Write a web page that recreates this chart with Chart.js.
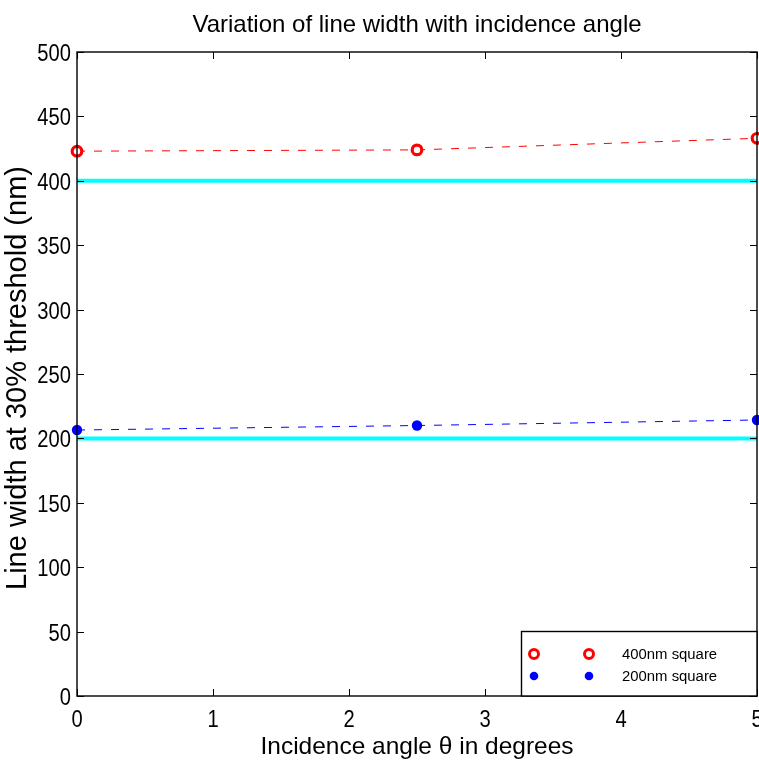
<!DOCTYPE html>
<html>
<head>
<meta charset="utf-8">
<script src="https://cdn.jsdelivr.net/npm/chart.js@4/dist/chart.umd.min.js"></script>
<style>
  html, body { margin: 0; padding: 0; background: #fff; }
  #wrap { width: 759px; height: 762px; position: relative; }
</style>
</head>
<body>
<div id="wrap"><canvas id="c"></canvas></div>
<script>
// Line width vs incidence angle
const angles = [0, 2.5, 5];
const width400 = [423, 424, 433];
const width200 = [206.5, 210, 214.3];
const nominal400 = [400, 400];
const nominal200 = [200, 200];
const xEnds = [0, 5];
const xTicks = [0, 1, 2, 3, 4, 5];
const yTicks = [0, 50, 100, 150, 200, 250, 300, 350, 400, 450, 500];

const chartTitle = 'Variation of line width with incidence angle';
const xTitle = 'Incidence angle \u03b8 in degrees';
const yTitle = 'Line width at 30% threshold (nm)';
const legendLabels = ['400nm square', '200nm square'];

const SANS = '"Liberation Sans", Arial, sans-serif';

function pts(xs, ys) { return xs.map((x, i) => ({ x: x, y: ys[i] })); }

// text squeezed horizontally, like the matlab export
function squeezed(ctx, text, x, y, align, sx) {
    ctx.save();
    ctx.translate(x, y);
    ctx.scale(sx, 1);
    ctx.textAlign = align;
    ctx.fillText(text, 0, 0);
    ctx.restore();
}

// frame with inward ticks on all four sides, tick labels, titles, legend box
const decor = {
    id: 'decor',
    afterDatasetsDraw(chart) {
        const ctx = chart.ctx;
        const a = chart.chartArea;
        const xs = chart.scales.x, ys = chart.scales.y;
        ctx.save();
        ctx.strokeStyle = '#000';
        ctx.lineWidth = 1.4;
        ctx.strokeRect(a.left, a.top, a.right - a.left, a.bottom - a.top);
        ctx.lineWidth = 1;
        ctx.beginPath();
        for (const t of xs.ticks) {
            const px = Math.round(xs.getPixelForValue(t.value)) + 0.5;
            ctx.moveTo(px, a.bottom); ctx.lineTo(px, a.bottom - 7);
            ctx.moveTo(px, a.top); ctx.lineTo(px, a.top + 7);
        }
        for (const t of ys.ticks) {
            const py = Math.round(ys.getPixelForValue(t.value)) + 0.5;
            ctx.moveTo(a.left, py); ctx.lineTo(a.left + 7, py);
            ctx.moveTo(a.right, py); ctx.lineTo(a.right - 7, py);
        }
        ctx.stroke();

        // tick labels
        ctx.fillStyle = '#000';
        ctx.textBaseline = 'alphabetic';
        ctx.font = '24px ' + SANS;
        for (const t of xs.ticks) {
            squeezed(ctx, t.label, xs.getPixelForValue(t.value), a.bottom + 31, 'center', 0.84);
        }
        for (const t of ys.ticks) {
            squeezed(ctx, t.label, a.left - 6, ys.getPixelForValue(t.value) + 9, 'right', 0.84);
        }

        // titles
        ctx.textAlign = 'center';
        ctx.fillText(chartTitle, (a.left + a.right) / 2, 32);
        squeezed(ctx, xTitle, (a.left + a.right) / 2, 754, 'center', 1.02);
        ctx.save();
        ctx.translate(26, 378);
        ctx.rotate(-Math.PI / 2);
        ctx.font = '29px ' + SANS;
        ctx.fillText(yTitle, 0, 0);
        ctx.restore();

        // legend
        const bx = 521.5, by = 631.5, bw = a.right - 521.5, bh = a.bottom - 631.5;
        ctx.fillStyle = '#fff';
        ctx.fillRect(bx, by, bw, bh);
        ctx.lineWidth = 1.4;
        ctx.strokeRect(bx, by, bw, bh);
        const rows = [654, 676];
        [0, 1].forEach(i => {
            const ds = chart.data.datasets[i];
            for (const mx of [534, 589]) {
                ctx.beginPath();
                if (i === 0) {
                    ctx.arc(mx, rows[i], 4.5, 0, Math.PI * 2);
                    ctx.lineWidth = 3;
                    ctx.strokeStyle = ds.pointBorderColor;
                    ctx.stroke();
                } else {
                    ctx.arc(mx, rows[i], 4.3, 0, Math.PI * 2);
                    ctx.fillStyle = ds.pointBackgroundColor;
                    ctx.fill();
                }
            }
            ctx.fillStyle = '#000';
            ctx.textBaseline = 'middle';
            ctx.font = '15.5px ' + SANS;
            squeezed(ctx, legendLabels[i], 622, rows[i] + 1, 'left', 0.96);
        });
        ctx.restore();
    }
};

new Chart(document.getElementById('c'), {
    type: 'scatter',
    data: {
        datasets: [
            {
                label: legendLabels[0], data: pts(angles, width400), showLine: true,
                borderColor: '#ff0000', borderWidth: 1, borderDash: [8, 9],
                pointRadius: 4.8, pointBorderWidth: 3.2, pointBorderColor: '#ff0000',
                pointBackgroundColor: '#ffffff', clip: false, order: 1
            },
            {
                label: legendLabels[1], data: pts(angles, width200), showLine: true,
                borderColor: '#0000ff', borderWidth: 1, borderDash: [8, 9],
                pointRadius: 5.2, pointBorderWidth: 0, pointBorderColor: '#0000ff',
                pointBackgroundColor: '#0000ff', clip: false, order: 2
            },
            {
                label: 'nominal 400', data: pts(xEnds, nominal400), showLine: true,
                borderColor: '#00ffff', borderWidth: 4, pointRadius: 0, order: 3
            },
            {
                label: 'nominal 200', data: pts(xEnds, nominal200), showLine: true,
                borderColor: '#00ffff', borderWidth: 4, pointRadius: 0, order: 4
            }
        ]
    },
    options: {
        responsive: true, maintainAspectRatio: false, animation: false,
        layout: { autoPadding: false, padding: { top: 52, right: 2, left: 0, bottom: 0 } },
        plugins: { legend: { display: false }, title: { display: false }, tooltip: { enabled: false } },
        scales: {
            x: {
                type: 'linear', min: 0, max: 5,
                afterBuildTicks: s => { s.ticks = xTicks.map(v => ({ value: v })); },
                ticks: { display: false },
                grid: { display: false, drawTicks: false },
                border: { display: false },
                afterFit: s => { s.height = 66; s.paddingLeft = 0; s.paddingRight = 0; }
            },
            y: {
                min: 0, max: 500,
                afterBuildTicks: s => { s.ticks = yTicks.map(v => ({ value: v })); },
                ticks: { display: false },
                grid: { display: false, drawTicks: false },
                border: { display: false },
                afterFit: s => { s.width = 77; s.paddingTop = 0; s.paddingBottom = 0; }
            }
        }
    },
    plugins: [decor]
});
</script>
</body>
</html>
